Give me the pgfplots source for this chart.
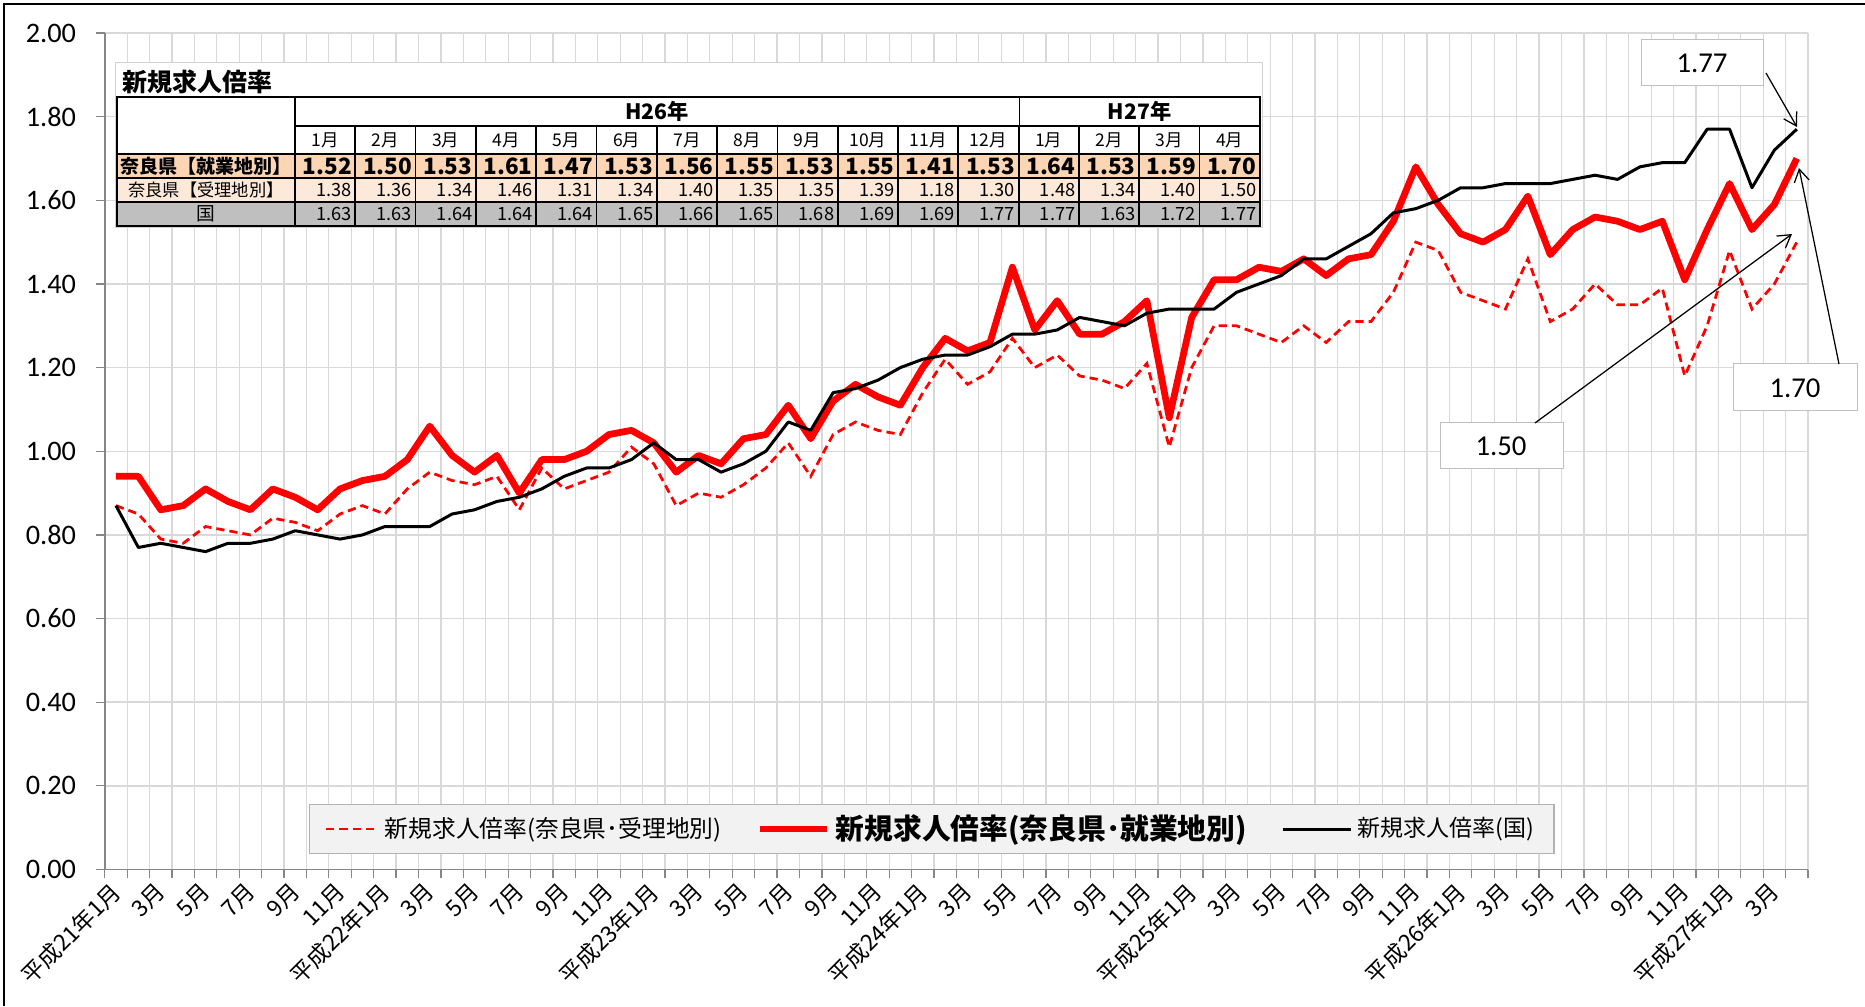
\documentclass[border=0pt]{standalone}
\usepackage{fontspec}
\setmainfont{Carlito}
\newfontfamily\jp{Noto Sans CJK JP}
\usepackage{pgfplots}
\pgfplotsset{compat=1.18}
\usepackage{pgfplotstable}
\usetikzlibrary{arrows.meta}

\definecolor{gridgray}{HTML}{D9D9D9}
\definecolor{axisgray}{HTML}{868686}
\definecolor{peach}{HTML}{FCD5B4}
\definecolor{peachlight}{HTML}{FDE9D9}
\definecolor{rowgray}{HTML}{BFBFBF}
\definecolor{legfill}{HTML}{F2F2F2}
\definecolor{boxgray}{HTML}{BFBFBF}

\pgfplotsset{
  legline/.style={legend image code/.code={\draw[##1] (0pt,0pt) -- (#1,0pt);}},
}

% monthly rates, H21/1 (0) to H27/4 (75)
\pgfplotstableread{
i  juri shugyo kuni
0  0.87 0.94 0.87
1  0.85 0.94 0.77
2  0.79 0.86 0.78
3  0.78 0.87 0.77
4  0.82 0.91 0.76
5  0.81 0.88 0.78
6  0.80 0.86 0.78
7  0.84 0.91 0.79
8  0.83 0.89 0.81
9  0.81 0.86 0.80
10 0.85 0.91 0.79
11 0.87 0.93 0.80
12 0.85 0.94 0.82
13 0.91 0.98 0.82
14 0.95 1.06 0.82
15 0.93 0.99 0.85
16 0.92 0.95 0.86
17 0.94 0.99 0.88
18 0.86 0.90 0.89
19 0.96 0.98 0.91
20 0.91 0.98 0.94
21 0.93 1.00 0.96
22 0.95 1.04 0.96
23 1.01 1.05 0.98
24 0.97 1.02 1.02
25 0.87 0.95 0.98
26 0.90 0.99 0.98
27 0.89 0.97 0.95
28 0.92 1.03 0.97
29 0.96 1.04 1.00
30 1.02 1.11 1.07
31 0.94 1.03 1.05
32 1.04 1.12 1.14
33 1.07 1.16 1.15
34 1.05 1.13 1.17
35 1.04 1.11 1.20
36 1.14 1.20 1.22
37 1.22 1.27 1.23
38 1.16 1.24 1.23
39 1.19 1.26 1.25
40 1.27 1.44 1.28
41 1.20 1.29 1.28
42 1.23 1.36 1.29
43 1.18 1.28 1.32
44 1.17 1.28 1.31
45 1.15 1.31 1.30
46 1.21 1.36 1.33
47 1.01 1.08 1.34
48 1.20 1.32 1.34
49 1.30 1.41 1.34
50 1.30 1.41 1.38
51 1.28 1.44 1.40
52 1.26 1.43 1.42
53 1.30 1.46 1.46
54 1.26 1.42 1.46
55 1.31 1.46 1.49
56 1.31 1.47 1.52
57 1.38 1.55 1.57
58 1.50 1.68 1.58
59 1.48 1.59 1.60
60 1.38 1.52 1.63
61 1.36 1.50 1.63
62 1.34 1.53 1.64
63 1.46 1.61 1.64
64 1.31 1.47 1.64
65 1.34 1.53 1.65
66 1.40 1.56 1.66
67 1.35 1.55 1.65
68 1.35 1.53 1.68
69 1.39 1.55 1.69
70 1.18 1.41 1.69
71 1.30 1.53 1.77
72 1.48 1.64 1.77
73 1.34 1.53 1.63
74 1.40 1.59 1.72
75 1.50 1.70 1.77
}\rates

\begin{document}
\begin{tikzpicture}
\useasboundingbox (0,0) rectangle (746pt,402.4pt);
\begin{axis}[
    at={(41.9pt,54.6pt)}, anchor=south west,
    width=681.3pt, height=334.6pt, scale only axis,
    xmin=-0.5, xmax=75.5, ymin=0, ymax=2,
    axis x line*=bottom, axis y line*=left,
    axis line style={draw=axisgray, line width=0.6pt},
    tick align=outside,
    major tick length=3.5pt, minor tick length=3.5pt,
    xtick={0,2,...,74},
    xticklabels={平成21年1月,3月,5月,7月,9月,11月,平成22年1月,3月,5月,7月,9月,11月,平成23年1月,3月,5月,7月,9月,11月,平成24年1月,3月,5月,7月,9月,11月,平成25年1月,3月,5月,7月,9月,11月,平成26年1月,3月,5月,7月,9月,11月,平成27年1月,3月},
    minor xtick={-0.5,0.5,...,75.5},
    major x tick style={draw=none},
    minor x tick style={draw=axisgray, line width=0.5pt},
    ytick={0,0.2,...,2.01},
    yticklabels={0.00,0.20,0.40,0.60,0.80,1.00,1.20,1.40,1.60,1.80,2.00},
    ytick style={draw=axisgray, line width=0.5pt},
    xminorgrids=true, ymajorgrids=true,
    minor grid style={draw=gridgray, line width=0.5pt},
    major grid style={draw=gridgray, line width=0.6pt},
    xticklabel style={font=\jp\fontsize{9.1}{11}\selectfont, yshift=-3pt, xshift=1pt, rotate=45, anchor=east, inner sep=1pt},
    yticklabel style={font=\fontsize{11.3}{13}\selectfont, xshift=-4.5pt},
    legend columns=3,
    legend style={at={(0.4856,0.0484)}, anchor=center, fill=legfill,
        draw=gray!60, line width=0.5pt, inner xsep=6pt, inner ysep=2pt,
        /tikz/every even column/.append style={column sep=12pt}},
]
\addplot[red, line width=1.1pt, dash pattern=on 3.3pt off 2pt, legline=21pt]
    table[x=i, y=juri] {\rates};
\addlegendentry{\jp\fontsize{9.5}{11}\selectfont 新規求人倍率(奈良県･受理地別)}
\addplot[red, line width=2.7pt, line join=round, legline=27pt]
    table[x=i, y=shugyo] {\rates};
\addlegendentry{\jp\bfseries\fontsize{11.5}{13}\selectfont 新規求人倍率(奈良県･就業地別)}
\addplot[black, line width=1.2pt, line join=round, legline=27pt]
    table[x=i, y=kuni] {\rates};
\addlegendentry{\jp\fontsize{9.2}{11}\selectfont 新規求人倍率(国)}
\end{axis}

% annotations in reference pixel units (y downward)
\begin{scope}[x=0.4pt, y=-0.4pt, shift={(0pt,402.4pt)}]
\draw[line width=1pt] (4,1006) -- (4,4) -- (1865,4);

% summary table
\draw[boxgray!70, fill=white] (115,63) rectangle (1262,228);
\node[anchor=west, inner sep=0] at (122,82) {\jp\bfseries\fontsize{10}{12}\selectfont 新規求人倍率};
\fill[peach] (117,154) rectangle (1259.8,178);
\fill[peachlight] (117,178) rectangle (1259.8,202);
\fill[rowgray] (117,202) rectangle (1259.8,226);
\draw[line width=0.7pt] (295,96.7) -- (295,226);
\draw[line width=0.7pt] (1019.4,96.7) -- (1019.4,226);
\draw[line width=0.7pt] (295,126) -- (1259.8,126);
\foreach \y in {154,178,202} \draw[line width=0.7pt] (117,\y) -- (1259.8,\y);
\foreach \c in {1,...,15} \draw[line width=0.7pt] ({295+60.3*\c},126) -- ({295+60.3*\c},226);
\draw[line width=0.9pt] (117,96.7) rectangle (1259.8,226);
\node at (657,111.5) {\jp\bfseries\fontsize{8.5}{10}\selectfont H26年};
\node at (1139.6,111.5) {\jp\bfseries\fontsize{8.5}{10}\selectfont H27年};
\foreach \m [count=\c from 0] in {1,2,3,4,5,6,7,8,9,10,11,12,1,2,3,4}
  \node at ({295+60.3*(\c+0.5)},140.5) {\jp\fontsize{7}{8}\selectfont \m 月};
\node at (206,166) {\jp\bfseries\fontsize{7.6}{9}\selectfont 奈良県【就業地別】};
\node at (206,190) {\jp\fontsize{6.9}{8}\selectfont 奈良県【受理地別】};
\node at (206,214) {\jp\fontsize{7.5}{9}\selectfont 国};
\foreach \v [count=\c from 1] in {1.52,1.50,1.53,1.61,1.47,1.53,1.56,1.55,1.53,1.55,1.41,1.53,1.64,1.53,1.59,1.70}
  \node[anchor=east, inner sep=0] at ({295+60.3*\c-3},166) {\jp\bfseries\fontsize{9}{10}\selectfont\v};
\foreach \v [count=\c from 1] in {1.38,1.36,1.34,1.46,1.31,1.34,1.40,1.35,1.35,1.39,1.18,1.30,1.48,1.34,1.40,1.50}
  \node[anchor=east, inner sep=0] at ({295+60.3*\c-3},190) {\jp\fontsize{7.3}{8}\selectfont\v};
\foreach \v [count=\c from 1] in {1.63,1.63,1.64,1.64,1.64,1.65,1.66,1.65,1.68,1.69,1.69,1.77,1.77,1.63,1.72,1.77}
  \node[anchor=east, inner sep=0] at ({295+60.3*\c-3},214) {\jp\fontsize{7.3}{8}\selectfont\v};

% callouts
\draw[boxgray, fill=white] (1641,40) rectangle (1763,86);
\node at (1702,63) {\fontsize{11.5}{13}\selectfont 1.77};
\draw[line width=0.5pt, -{Straight Barb[length=5pt,width=6pt]}] (1766,73) -- (1797,127);
\draw[boxgray, fill=white] (1733,364) rectangle (1857,411);
\node at (1795,388) {\fontsize{11.5}{13}\selectfont 1.70};
\draw[line width=0.5pt, -{Straight Barb[length=5pt,width=6pt]}] (1839,364) -- (1799,168);
\draw[boxgray, fill=white] (1440,423) rectangle (1563,469);
\node at (1501,446) {\fontsize{11.5}{13}\selectfont 1.50};
\draw[line width=0.5pt, -{Straight Barb[length=5pt,width=6pt]}] (1535,423) -- (1792,234);
\end{scope}
\end{tikzpicture}
\end{document}
